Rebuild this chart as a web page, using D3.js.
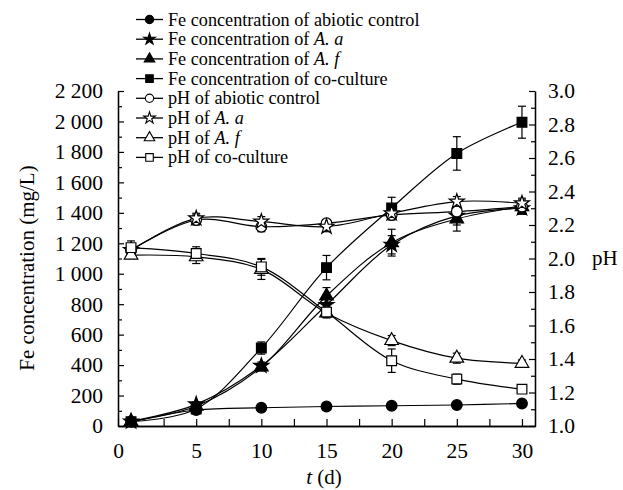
<!DOCTYPE html>
<html><head><meta charset="utf-8">
<script src="https://cdn.jsdelivr.net/npm/d3@7"></script>
<style>
body{margin:0;background:#fff;}
svg{display:block;font-family:"Liberation Serif","Times New Roman",serif;}
</style></head>
<body><svg id="c" width="623" height="490"></svg>
<script>
const days = [0,5,10,15,20,25,30];
const feAbiotic = [28,105,120,128,133,138,148];
const feAa = [30,142,395,795,1190,1380,1430];
const feAf = [30,130,387,854,1204,1360,1440];
const feCo = [28,112,512,1040,1432,1790,1995];
const phAbiotic = [2.05,2.23,2.19,2.21,2.26,2.28,2.31];
const phAa = [2.05,2.24,2.22,2.19,2.27,2.34,2.33];
const phAf = [2.02,2.01,1.935,1.675,1.51,1.405,1.374];
const phCo = [2.065,2.03,1.95,1.68,1.39,1.28,1.22];
const errFeAbiotic = [5,8,10,10,10,10,12];
const errFeAa = [8,15,25,50,60,60,40];
const errFeAf = [8,15,25,55,88,80,45];
const errFeCo = [8,15,40,80,70,110,105];
const errPhAbiotic = [0.02,0.03,0.03,0.02,0.03,0.03,0.03];
const errPhAa = [0.02,0.03,0.03,0.03,0.03,0.03,0.03];
const errPhAf = [0.02,0.04,0.06,0.03,0.03,0.03,0.02];
const errPhCo = [0.04,0.04,0.05,0.03,0.07,0.03,0.02];
const feTicks = [0,200,400,600,800,1000,1200,1400,1600,1800,2000,2200];
const phTicks = [1.0,1.2,1.4,1.6,1.8,2.0,2.2,2.4,2.6,2.8,3.0];
const dayTicks = [5,10,15,20,25,30];
const legendLabels = [
  ["Fe concentration of abiotic control"],
  ["Fe concentration of ","A. a"],
  ["Fe concentration of ","A. f"],
  ["Fe concentration of co-culture"],
  ["pH of abiotic control"],
  ["pH of ","A. a"],
  ["pH of ","A. f"],
  ["pH of co-culture"]
];

const svg = d3.select("#c");
const L=118, R=535, B=426, T=91;
const x = d3.scaleLinear().domain([-1,31]).range([L,R]);
const yFe = d3.scaleLinear().domain([0,2200]).range([B,T]);
const yPh = d3.scaleLinear().domain([1,3]).range([B,T]);

const series = [
  {vals:feAbiotic, err:errFeAbiotic, y:yFe, sym:"circle", fill:"#000"},
  {vals:feAa, err:errFeAa, y:yFe, sym:"star", fill:"#000"},
  {vals:feAf, err:errFeAf, y:yFe, sym:"triangle", fill:"#000"},
  {vals:feCo, err:errFeCo, y:yFe, sym:"square", fill:"#000"},
  {vals:phAbiotic, err:errPhAbiotic, y:yPh, sym:"circle", fill:"#fff"},
  {vals:phAa, err:errPhAa, y:yPh, sym:"star", fill:"#fff"},
  {vals:phAf, err:errPhAf, y:yPh, sym:"triangle", fill:"#fff"},
  {vals:phCo, err:errPhCo, y:yPh, sym:"square", fill:"#fff"}
];
const symType = {circle:d3.symbolCircle, star:d3.symbolStar, triangle:d3.symbolTriangle, square:d3.symbolSquare};
const symSize = {circle:90, star:70, triangle:80, square:95};
function sym(s){ return d3.symbol().type(symType[s]).size(symSize[s])(); }

// axes
const fmtFe = d => d>=1000 ? (Math.floor(d/1000)+" "+String(d%1000).padStart(3,"0")) : String(d);
svg.append("g").attr("transform",`translate(${L},0)`)
  .call(d3.axisLeft(yFe).tickValues(feTicks).tickFormat(fmtFe).tickSizeInner(-6).tickSizeOuter(0).tickPadding(15));
svg.append("g").attr("transform",`translate(${L},0)`)
  .call(d3.axisLeft(yFe).tickValues(d3.range(100,2200,200)).tickFormat("").tickSizeInner(-4).tickSizeOuter(0));
svg.append("g").attr("transform",`translate(${R},0)`)
  .call(d3.axisRight(yPh).tickValues(phTicks).tickFormat(d3.format(".1f")).tickSizeInner(-6).tickSizeOuter(0).tickPadding(13));
svg.append("g").attr("transform",`translate(${R},0)`)
  .call(d3.axisRight(yPh).tickValues(d3.range(1.1,3.0,0.2)).tickFormat("").tickSizeInner(-4).tickSizeOuter(0));
svg.append("g").attr("transform",`translate(0,${B})`)
  .call(d3.axisBottom(x).tickValues([-1,...dayTicks]).tickFormat(d => d<0 ? "0" : String(d)).tickSizeInner(-7).tickSizeOuter(0).tickPadding(17));
svg.append("g").attr("transform",`translate(0,${B})`)
  .call(d3.axisBottom(x).tickValues(d3.range(2.5,30,5)).tickFormat("").tickSizeInner(-7).tickSizeOuter(0));
svg.selectAll(".domain").attr("stroke","#000").attr("stroke-width",1.3);
svg.selectAll(".tick line").attr("stroke","#000").attr("stroke-width",1.2);
svg.selectAll(".tick text").attr("font-family","Liberation Serif").attr("font-size",21.5).attr("fill","#000");

// axis titles
svg.append("text").attr("transform","translate(34,268) rotate(-90)").attr("text-anchor","middle")
  .attr("font-size",21).text("Fe concentration (mg/L)");
svg.append("text").attr("x",592).attr("y",265).attr("font-size",21).text("pH");
const xt = svg.append("text").attr("x",324).attr("y",484).attr("text-anchor","middle").attr("font-size",21);
xt.append("tspan").attr("font-style","italic").text("t");
xt.append("tspan").text(" (d)");

// lines
const plot = svg.append("g");
series.forEach(s => {
  const line = d3.line().x((d,i)=>x(days[i])).y(d=>s.y(d)).curve(d3.curveCatmullRom.alpha(0.5));
  plot.append("path").datum(s.vals).attr("d",line).attr("fill","none").attr("stroke","#000").attr("stroke-width",1.2);
});
// error bars
series.forEach(s => {
  s.vals.forEach((v,i) => {
    const cx = x(days[i]), y1 = s.y(v+s.err[i]), y2 = s.y(v-s.err[i]);
    const g = plot.append("g").attr("stroke","#000").attr("stroke-width",1.2);
    g.append("line").attr("x1",cx).attr("x2",cx).attr("y1",y1).attr("y2",y2);
    g.append("line").attr("x1",cx-4).attr("x2",cx+4).attr("y1",y1).attr("y2",y1);
    g.append("line").attr("x1",cx-4).attr("x2",cx+4).attr("y1",y2).attr("y2",y2);
  });
});
// markers
series.forEach(s => {
  s.vals.forEach((v,i) => {
    plot.append("path").attr("d",sym(s.sym))
      .attr("transform",`translate(${x(days[i])},${s.y(v)})`)
      .attr("fill",s.fill).attr("stroke","#000").attr("stroke-width",1.2);
  });
});

// legend
const lg = svg.append("g");
legendLabels.forEach((lab,i) => {
  const cy = 19.5 + i*19.7;
  lg.append("line").attr("x1",136).attr("x2",163).attr("y1",cy).attr("y2",cy).attr("stroke","#000").attr("stroke-width",1.3);
  const s = series[i];
  lg.append("path").attr("d",d3.symbol().type(symType[s.sym]).size(symSize[s.sym]*0.6)())
    .attr("transform",`translate(149.5,${cy})`).attr("fill",s.fill).attr("stroke","#000").attr("stroke-width",1.1);
  const t = lg.append("text").attr("x",168).attr("y",cy+6).attr("font-size",18.2);
  lab.forEach((part,j) => {
    const sp = t.append("tspan").text(part);
    if (j===1) sp.attr("font-style","italic");
  });
});
</script></body></html>
